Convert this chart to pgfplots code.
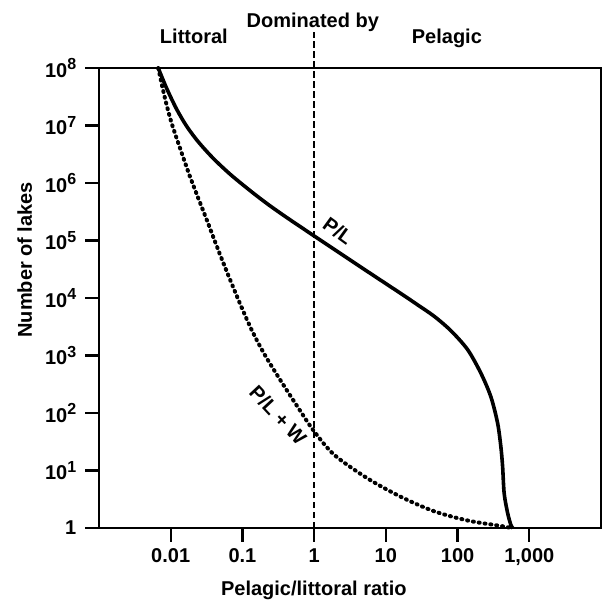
\documentclass[border=0pt]{standalone}
\usepackage{pgfplots}
\pgfplotsset{compat=1.18}
\usepackage{fontspec}
\setmainfont{Liberation Sans}
\newcommand\sep[1]{10\raisebox{7.5bp}{\fontsize{16bp}{16bp}\selectfont #1}}
\begin{document}
\fontsize{20bp}{24bp}\selectfont\bfseries
\begin{tikzpicture}
\begin{axis}[
  xmode=log, ymode=log,
  scale only axis, width=502bp, height=460bp,
  xmin=1e-3, xmax=1e4, ymin=1, ymax=1e8,
  axis line style={line width=2.8bp},
  xtick={0.01,0.1,1,10,100,1000},
  xticklabels={0.01,0.1,1,10,100,{1,000}},
  ytick={1,10,100,1000,10000,100000,1000000,10000000,100000000},
  yticklabels={1,\sep{1},\sep{2},\sep{3},\sep{4},\sep{5},\sep{6},\sep{7},\sep{8}},
  xminorticks=false, yminorticks=false,
  tick align=outside, tick pos=left,
  major tick length=14bp,
  every tick/.style={line width=2.2bp, black},
  tick label style={font=\fontsize{20bp}{24bp}\selectfont\bfseries},
  yticklabel style={xshift=-2bp},
  clip=false,
]
% P/L
\addplot[line width=3.6bp, smooth, tension=0.5] coordinates {
(0.0067,1e8) (0.00869,4.56e7) (0.01197,1.968e7) (0.01648,9.95e6)
(0.02275,5.73e6) (0.03133,3.61e6) (0.04315,2.38e6) (0.06982,1.368e6)
(0.1327,7.11e5) (0.2286,4.23e5) (0.3945,2.62e5) (0.659,1.70e5) (1,1.20e5)
(3.98,3.80e4) (16.3,1.189e4) (27.8,7586) (47.4,4786) (80.9,2692)
(138.4,1259) (211.8,490) (291.7,190.5) (362.2,66.1) (401.8,25.7)
(424.6,11.75) (446.7,3.98) (498.9,1.82) (554.6,1.122) (588.8,1)
};
% P/L + W
\addplot[line width=4bp, dash pattern=on 1bp off 4.9bp, line cap=round, smooth, tension=0.5] coordinates {
(0.0067,1e8) (0.00822,3.16e7) (0.01019,1.148e7) (0.01406,3.47e6)
(0.01936,1.122e6) (0.03133,2.40e5) (0.0507,5.01e4) (0.0865,9770)
(0.1327,2884) (0.2032,1047) (0.3467,355) (0.593,126) (1,47.9)
(1.919,18.6) (5.60,7.24) (16.3,3.47) (47.4,1.95) (138.4,1.35)
(402,1.084) (562,1)
};
% divider at ratio 1
\addplot[line width=2.7bp, dash pattern=on 6.5bp off 3.5bp] coordinates {(1,1) (1,4.23e8)};
\node[rotate=-36] at (axis cs:2.16,1.45e5) {P/L};
\node[rotate=-47] at (axis cs:0.315,92) {P/L + W};
\node[anchor=base] at (axis description cs:0.426,1.089) {Dominated by};
\node[anchor=base] at (axis description cs:0.189,1.054) {Littoral};
\node[anchor=base] at (axis description cs:0.693,1.054) {Pelagic};
\node[anchor=base] at (axis description cs:0.428,-0.1457) {Pelagic/littoral ratio};
\node[anchor=base, rotate=90] at (axis description cs:-0.1335,0.583) {Number of lakes};
\end{axis}
\pgfresetboundingbox
\path ([shift={(-99bp,-76bp)}]current axis.south west) rectangle ([shift={(5bp,68bp)}]current axis.north east);
\end{tikzpicture}
\end{document}
